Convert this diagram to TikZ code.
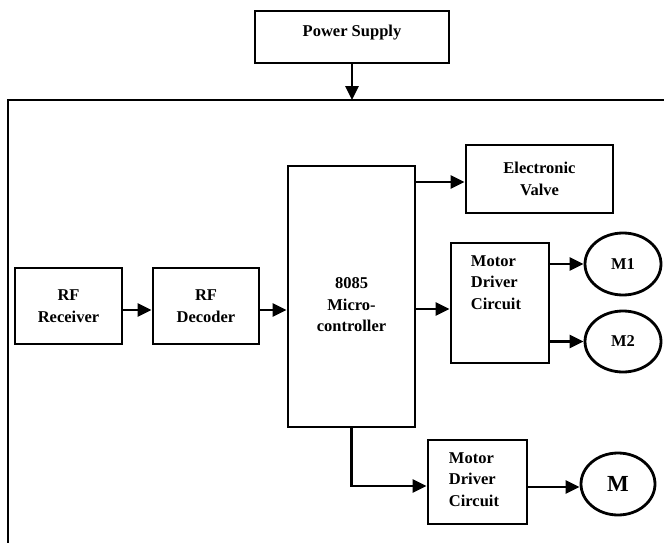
\documentclass[tikz,border=0pt]{standalone}
\usepackage{fontspec}
\setmainfont{Liberation Serif}
\usetikzlibrary{shapes.geometric,arrows.meta}
\begin{document}
\begin{tikzpicture}[x=1pt,y=-1pt,
  line width=2.8pt,
  blk/.style={draw,rectangle,inner sep=0pt,line width=2.8pt},
  lbl/.style={font=\bfseries\fontsize{16.5}{21.5}\selectfont,align=center,inner sep=0pt},
  motor/.style={draw,ellipse,inner sep=0pt,line width=2.8pt},
  arr/.style={-{Triangle[length=14pt,width=13pt]},line width=2.8pt}]
\useasboundingbox (0,0) rectangle (664,543);

% outer enclosure (open at the right and bottom)
\draw (8,543) -- (8,100) -- (664,100);
\coordinate (frametop) at (352,100);

% power supply
\node[blk,minimum width=194pt,minimum height=52pt] (ps) at (352,37) {};
\node[lbl] at (352,33) {Power Supply};
\draw[arr] (ps.south) -- (frametop);

% RF chain
\node[blk,minimum width=107pt,minimum height=76pt,lbl] (rfr) at (68.5,306) {RF\\Receiver};
\node[blk,minimum width=106pt,minimum height=76pt,lbl] (rfd) at (206,306) {RF\\Decoder};

% microcontroller
\node[blk,minimum width=127pt,minimum height=261pt] (mcu) at (351.5,296.5) {};
\node[lbl] at (351.5,305) {8085\\Micro-\\controller};

% electronic valve
\node[blk,minimum width=147pt,minimum height=68pt,lbl] (valve) at (539.5,179) {Electronic\\Valve};

% motor driver for M1 / M2
\node[blk,minimum width=98pt,minimum height=120pt] (md1) at (500,303) {};
\node[lbl,anchor=north,align=left] at (496,254) {Motor\\Driver\\Circuit};

% motor driver for M
\node[blk,minimum width=99pt,minimum height=84pt] (md2) at (477.5,482) {};
\node[lbl,anchor=north,align=left] at (474,451) {Motor\\Driver\\Circuit};

% motors
\node[motor,minimum width=76pt,minimum height=62pt,lbl] (m1) at (623,264) {M1};
\node[motor,minimum width=76pt,minimum height=61pt,lbl] (m2) at (623,341.5) {M2};
\node[motor,minimum width=74pt,minimum height=62pt,font=\bfseries\fontsize{23}{25}\selectfont] (m) at (618,484) {M};

% connections
\draw[arr] ([yshift=-4pt]rfr.east) -- ([yshift=-4pt]rfd.west);
\draw[arr] ([yshift=-4pt]rfd.east) -- ([yshift=-4pt]rfd.east -| mcu.west);
\draw[arr] ([yshift=-3pt]valve.west -| mcu.east) -- ([yshift=-3pt]valve.west);
\draw[arr] ([yshift=-6pt]md1.west -| mcu.east) -- ([yshift=-6pt]md1.west);
\draw[arr] (m1.west -| md1.east) -- (m1.west);
\draw[arr] (m2.west -| md1.east) -- (m2.west);
\draw[arr] (mcu.south) |- ([yshift=-4pt]md2.west);
\draw[arr] ([yshift=-3pt]m.west -| md2.east) -- ([yshift=-3pt]m.west);
\end{tikzpicture}
\end{document}
